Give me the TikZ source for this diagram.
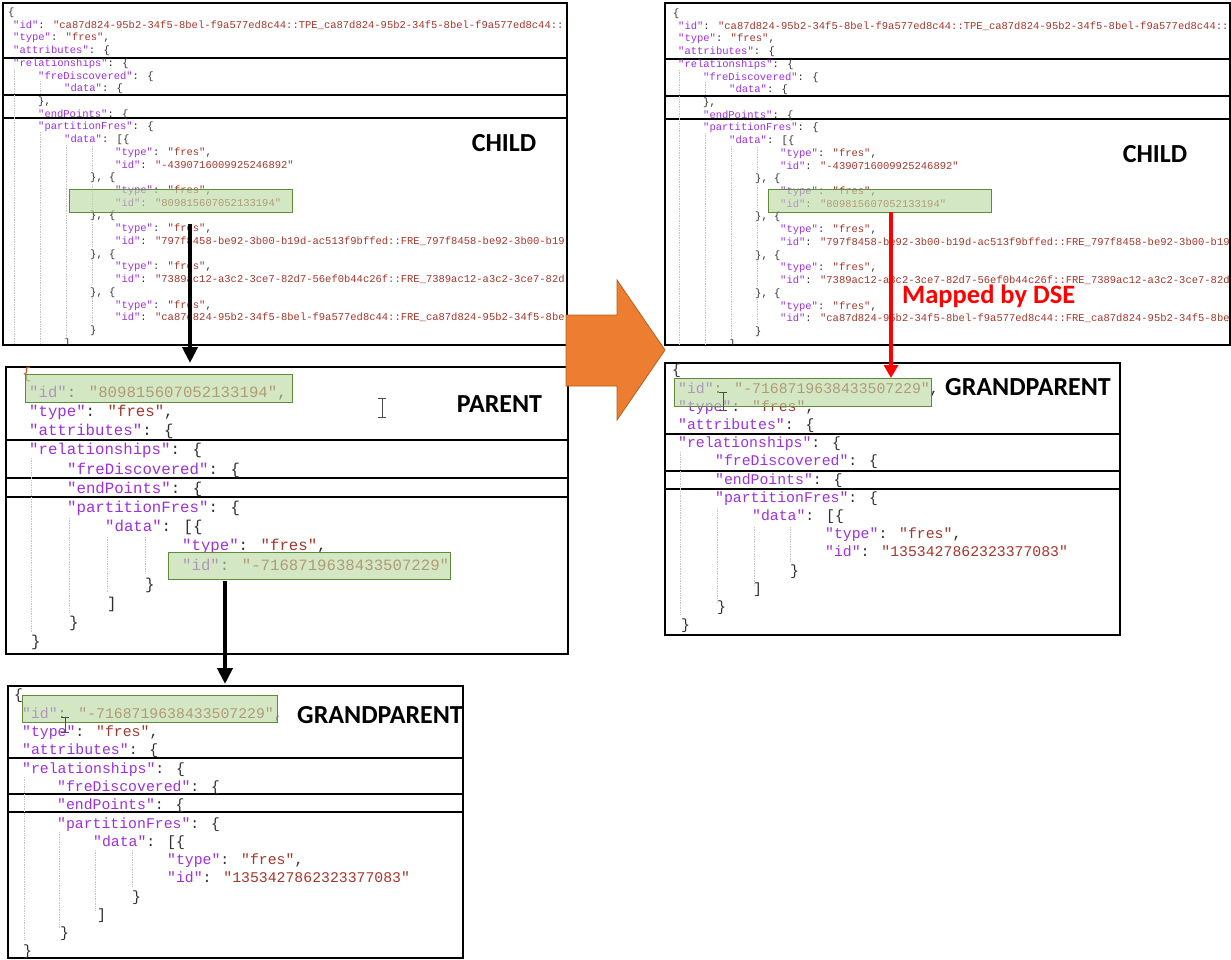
\documentclass[tikz,border=0pt]{standalone}
\usepackage{fontspec}
\newfontfamily\jmono{Liberation Mono}
\newfontfamily\labfont{Carlito}
\usetikzlibrary{arrows.meta}
\definecolor{jkey}{HTML}{9E30DC}
\definecolor{jstr}{HTML}{A4372B}
\definecolor{jpun}{HTML}{2F2F2F}
\definecolor{hlfill}{HTML}{B9D9A3}
\definecolor{hldraw}{HTML}{5E8C3A}
\definecolor{orng}{HTML}{ED7D31}
\definecolor{orngd}{HTML}{B4601F}
\definecolor{guidec}{HTML}{C4C4C4}
\newcommand\jsonkey[1]{\textcolor{jkey}{"#1"}}
\newcommand\jsonstr[1]{\textcolor{jstr}{"#1"}}
\newcommand\jsonraw[1]{\textcolor{jstr}{#1}}
\newcommand\childtext[3]{%
\node[jc] (#1t0) at (#2+8,#3+15.4) {\{};
\node[jc] (#1t1) at (#2+13,#3+28.1) {\jsonkey{id}: \jsonraw{"ca87d824-95b2-34f5-8bel-f9a577ed8c44::TPE\_ca87d824-95b2-34f5-8bel-f9a577ed8c44::}};
\node[jc] (#1t2) at (#2+13,#3+40.8) {\jsonkey{type}: \jsonstr{fres},};
\node[jc] (#1t3) at (#2+13,#3+53.6) {\jsonkey{attributes}: \{};
\node[jc] (#1t4) at (#2+13,#3+66.3) {\jsonkey{relationships}: \{};
\node[jc] (#1t5) at (#2+38,#3+79.0) {\jsonkey{freDiscovered}: \{};
\node[jc] (#1t6) at (#2+64,#3+91.7) {\jsonkey{data}: \{};
\node[jc] (#1t7) at (#2+38,#3+104.4) {\},};
\node[jc] (#1t8) at (#2+38,#3+117.2) {\jsonkey{endPoints}: \{};
\node[jc] (#1t9) at (#2+38,#3+129.9) {\jsonkey{partitionFres}: \{};
\node[jc] (#1t10) at (#2+64,#3+142.6) {\jsonkey{data}: [\{};
\node[jc] (#1t11) at (#2+115,#3+155.3) {\jsonkey{type}: \jsonstr{fres},};
\node[jc] (#1t12) at (#2+115,#3+168.0) {\jsonkey{id}: \jsonstr{-4390716009925246892}};
\node[jc] (#1t13) at (#2+90,#3+180.8) {\}, \{};
\node[jc] (#1t14) at (#2+115,#3+193.5) {\jsonkey{type}: \jsonstr{fres},};
\node[jc] (#1t15) at (#2+115,#3+206.2) {\jsonkey{id}: \jsonstr{809815607052133194}};
\node[jc] (#1t16) at (#2+90,#3+218.9) {\}, \{};
\node[jc] (#1t17) at (#2+115,#3+231.6) {\jsonkey{type}: \jsonstr{fres},};
\node[jc] (#1t18) at (#2+115,#3+244.4) {\jsonkey{id}: \jsonraw{"797f8458-be92-3b00-b19d-ac513f9bffed::FRE\_797f8458-be92-3b00-b19}};
\node[jc] (#1t19) at (#2+90,#3+257.1) {\}, \{};
\node[jc] (#1t20) at (#2+115,#3+269.8) {\jsonkey{type}: \jsonstr{fres},};
\node[jc] (#1t21) at (#2+115,#3+282.5) {\jsonkey{id}: \jsonraw{"7389ac12-a3c2-3ce7-82d7-56ef0b44c26f::FRE\_7389ac12-a3c2-3ce7-82d}};
\node[jc] (#1t22) at (#2+90,#3+295.2) {\}, \{};
\node[jc] (#1t23) at (#2+115,#3+308.0) {\jsonkey{type}: \jsonstr{fres},};
\node[jc] (#1t24) at (#2+115,#3+320.7) {\jsonkey{id}: \jsonraw{"ca87d824-95b2-34f5-8bel-f9a577ed8c44::FRE\_ca87d824-95b2-34f5-8be}};
\node[jc] (#1t25) at (#2+90,#3+333.4) {\}};
\node[jc] (#1t26) at (#2+64,#3+346.1) {]};
\draw[guide] (#2+14,#3+69) -- (#2+14,#3+344);
\draw[guide] (#2+40,#3+81) -- (#2+40,#3+93);
\draw[guide] (#2+40,#3+132) -- (#2+40,#3+344);
\draw[guide] (#2+66,#3+145) -- (#2+66,#3+338);
\draw[guide] (#2+92,#3+146) -- (#2+92,#3+171);
\draw[guide] (#2+92,#3+184) -- (#2+92,#3+209);
\draw[guide] (#2+92,#3+222) -- (#2+92,#3+247);
\draw[guide] (#2+92,#3+260) -- (#2+92,#3+285);
\draw[guide] (#2+92,#3+298) -- (#2+92,#3+323);
}
\begin{document}
\begin{tikzpicture}[x=1pt,y=-1pt,
 jc/.style={anchor=base west, inner sep=0pt, text=jpun, font=\jmono\fontsize{10.5}{12}\selectfont},
 jp/.style={anchor=base west, inner sep=0pt, text=jpun, font=\jmono\fontsize{15.7}{18}\selectfont},
 jg/.style={anchor=base west, inner sep=0pt, text=jpun, font=\jmono\fontsize{14.8}{17}\selectfont},
 jbox/.style={draw=black, line width=1.5pt, anchor=north west, inner sep=0pt},
 divider/.style={line width=1.1pt, black},
 guide/.style={guidec, densely dotted, line width=0.7pt},
 hl/.style={draw=hldraw, line width=1.3pt, fill=hlfill, fill opacity=0.62, anchor=north west, inner sep=0pt},
 lbl/.style={font=\labfont\bfseries\fontsize{26}{30}\selectfont, inner sep=0pt},
 barrow/.style={line width=4pt, -{Triangle[width=15pt,length=16pt]}},
 rarrow/.style={red, line width=3.5pt, -{Triangle[width=14pt,length=13pt]}},
 ibeam/.style={draw=black!70, line width=0.9pt}]
\useasboundingbox (0,0) rectangle (1231,959);
\fill[white] (0,0) rectangle (1231,959);

% ---------- boxes ----------
\node[jbox, minimum width=564pt, minimum height=342pt] (childL) at (2,2) {};
\node[jbox, minimum width=565pt, minimum height=342pt] (childR) at (664,2) {};
\node[jbox, minimum width=562pt, minimum height=287pt] (parent) at (5,366) {};
\node[jbox, minimum width=455pt, minimum height=272pt] (gpL) at (7,685) {};
\node[jbox, minimum width=455pt, minimum height=272pt] (gpR) at (664,362) {};

% dividers
\draw[divider] (2,58) -- (566,58) (2,95) -- (566,95) (2,118) -- (566,118);
\draw[divider] (664,59) -- (1229,59) (664,96) -- (1229,96) (664,119) -- (1229,119);
\draw[divider] (5,440) -- (567,440) (5,478) -- (567,478) (5,497) -- (567,497);
\draw[divider] (7,758) -- (462,758) (7,794) -- (462,794) (7,812) -- (462,812);
\draw[divider] (664,434) -- (1119,434) (664,471) -- (1119,471) (664,489) -- (1119,489);

% ---------- child texts ----------
\begin{scope}
\clip (2,2) rectangle (566,344);
\childtext{cl}{0}{0}
\end{scope}
\begin{scope}
\clip (664,2) rectangle (1229,344);
\childtext{cr}{665}{1}
\end{scope}

% ---------- parent text ----------
\node[jp, text=orngd] (p0) at (22,378) {\{};
\node[jp] (p1) at (29,397.2) {\jsonkey{id}: \jsonstr{809815607052133194},};
\node[jp] (p2) at (29,416.4) {\jsonkey{type}: \jsonstr{fres},};
\node[jp] (p3) at (29,435.6) {\jsonkey{attributes}: \{};
\node[jp] (p4) at (29,454.8) {\jsonkey{relationships}: \{};
\node[jp] (p5) at (67,474) {\jsonkey{freDiscovered}: \{};
\node[jp] (p6) at (67,493.2) {\jsonkey{endPoints}: \{};
\node[jp] (p7) at (67,512.4) {\jsonkey{partitionFres}: \{};
\node[jp] (p8) at (105,531.6) {\jsonkey{data}: [\{};
\node[jp] (p9) at (182,550.8) {\jsonkey{type}: \jsonstr{fres},};
\node[jp] (p10) at (182,570) {\jsonkey{id}: \jsonstr{-7168719638433507229}};
\node[jp] (p11) at (145,589.2) {\}};
\node[jp] (p12) at (107,608.4) {]};
\node[jp] (p13) at (69,627.6) {\}};
\node[jp] (p14) at (31,646.8) {\}};
\draw[guide] (31,458) -- (31,633);
\draw[guide] (69,518) -- (69,613);
\draw[guide] (107,537) -- (107,593);
\draw[guide] (145,537) -- (145,573);

% ---------- grandparent left text ----------
\node[jg] (gl0) at (14,699.9) {\{};
\node[jg] (gl1) at (22,718.2) {\jsonkey{id}: \jsonstr{-7168719638433507229},};
\node[jg] (gl2) at (22,736.5) {\jsonkey{type}: \jsonstr{fres},};
\node[jg] (gl3) at (22,754.8) {\jsonkey{attributes}: \{};
\node[jg] (gl4) at (22,773.1) {\jsonkey{relationships}: \{};
\node[jg] (gl5) at (57,791.4) {\jsonkey{freDiscovered}: \{};
\node[jg] (gl6) at (57,809.7) {\jsonkey{endPoints}: \{};
\node[jg] (gl7) at (57,828) {\jsonkey{partitionFres}: \{};
\node[jg] (gl8) at (93,846.3) {\jsonkey{data}: [\{};
\node[jg] (gl9) at (167,864.6) {\jsonkey{type}: \jsonstr{fres},};
\node[jg] (gl10) at (167,882.9) {\jsonkey{id}: \jsonstr{1353427862323377083}};
\node[jg] (gl11) at (132,901.2) {\}};
\node[jg] (gl12) at (97,919.5) {]};
\node[jg] (gl13) at (60,937.8) {\}};
\node[jg] (gl14) at (23,955) {\}};
\draw[guide] (24,777) -- (24,940);
\draw[guide] (59,832) -- (59,928);
\draw[guide] (95,850) -- (95,910);
\draw[guide] (132,850) -- (132,887);

% ---------- grandparent right text ----------
\node[jg] (gr0) at (672,374.9) {\{};
\node[jg] (gr1) at (678,393.1) {\jsonkey{id}: \jsonstr{-7168719638433507229},};
\node[jg] (gr2) at (678,411.3) {\jsonkey{type}: \jsonstr{fres},};
\node[jg] (gr3) at (678,429.5) {\jsonkey{attributes}: \{};
\node[jg] (gr4) at (678,447.7) {\jsonkey{relationships}: \{};
\node[jg] (gr5) at (715,465.9) {\jsonkey{freDiscovered}: \{};
\node[jg] (gr6) at (715,484.1) {\jsonkey{endPoints}: \{};
\node[jg] (gr7) at (715,502.3) {\jsonkey{partitionFres}: \{};
\node[jg] (gr8) at (752,520.5) {\jsonkey{data}: [\{};
\node[jg] (gr9) at (825,538.7) {\jsonkey{type}: \jsonstr{fres},};
\node[jg] (gr10) at (825,556.9) {\jsonkey{id}: \jsonstr{1353427862323377083}};
\node[jg] (gr11) at (790,575.1) {\}};
\node[jg] (gr12) at (753,593.3) {]};
\node[jg] (gr13) at (717,611.5) {\}};
\node[jg] (gr14) at (681,629.7) {\}};
\draw[guide] (680,452) -- (680,615);
\draw[guide] (717,508) -- (717,603);
\draw[guide] (754,527) -- (754,585);
\draw[guide] (790,527) -- (790,562);

% ---------- highlights ----------
\node[hl, minimum width=223pt, minimum height=23pt] (hlCL) at (69,189) {};
\node[hl, minimum width=223pt, minimum height=23pt] (hlCR) at (768,189) {};
\node[hl, minimum width=267pt, minimum height=28pt] (hlP1) at (25,374) {};
\node[hl, minimum width=282pt, minimum height=27pt] (hlP2) at (168,552) {};
\node[hl, minimum width=255pt, minimum height=27pt] (hlGL) at (22,695) {};
\node[hl, minimum width=257pt, minimum height=28pt] (hlGR) at (674,378) {};

% ---------- cursors ----------
\draw[ibeam] (382,398) -- (382,417) (378,398) -- (386,398) (378,417) -- (386,417);
\draw[ibeam] (65,717) -- (65,732) (61,717) -- (69,717) (61,732) -- (69,732);
\draw[ibeam] (723,392) -- (723,410) (719,392) -- (727,392) (719,410) -- (727,410);

% ---------- labels ----------
\node[lbl] (labCL) at (504,143) {CHILD};
\node[lbl] (labCR) at (1155,154) {CHILD};
\node[lbl] (labP) at (499.5,404) {PARENT};
\node[lbl] (labGL) at (380,715) {GRANDPARENT};
\node[lbl] (labGR) at (1028,387) {GRANDPARENT};
\node[lbl, text=red, anchor=base west, font=\labfont\bfseries\fontsize{26.5}{30}\selectfont] (labDSE) at (902,303) {Mapped by DSE};

% ---------- arrows ----------
\coordinate (a1s) at (190,224);
\draw[barrow] (a1s) -- ([yshift=3pt]a1s |- parent.north);
\coordinate (a2s) at (225,581);
\draw[barrow] (a2s) -- ([yshift=1pt]a2s |- gpL.north);
\coordinate (a3s) at (891,212);
\draw[rarrow] (a3s) -- (a3s |- hlGR.north);

% ---------- big orange arrow ----------
\draw[fill=orng, draw=orngd, line width=0.8pt, line join=miter]
  (566,315) -- (617,315) -- (617,280) -- (665,350) -- (617,420) -- (617,386) -- (566,386) -- cycle;
\end{tikzpicture}
\end{document}
